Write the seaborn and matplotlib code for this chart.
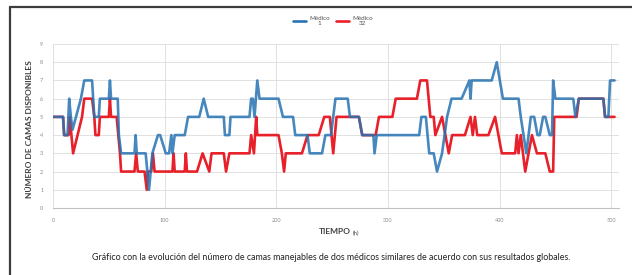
import matplotlib
matplotlib.use('Agg')
import matplotlib.pyplot as plt
import seaborn as sns
from matplotlib.lines import Line2D

# datos (vertices de cada serie)
tiempo_medico1 = [0, 9, 10, 13, 14.5, 16, 17.5, 25, 28, 35, 37, 41, 42, 50, 51, 52, 58, 59, 61, 73, 74, 75, 83,
                  86, 89, 94, 96, 101, 104, 106, 107, 109, 118, 121, 131, 135, 139, 153, 154, 158, 159, 176,
                  177.5, 179, 180.5, 183, 185, 202, 206, 215, 217, 228, 230, 241, 244, 249, 253, 264, 266, 274,
                  277, 287, 288, 290, 328, 330, 334, 337, 341, 344, 348.5, 353, 357, 366, 373, 374, 375, 393,
                  397.5, 403, 417, 419, 424, 428, 431, 434, 436, 439, 441, 445, 447, 448, 450, 466, 468, 471,
                  493, 494.5, 497.5, 499, 503]
camas_medico1 = [5, 5, 4, 4, 6, 5, 4.3, 6, 7, 7, 5, 5, 6, 6, 7, 6, 6, 4, 3, 3, 4, 3, 3,
                 1, 3, 4, 4, 3, 3, 4, 3, 4, 4, 5, 5, 6, 5, 5, 4, 4, 5, 5,
                 6, 6, 5, 7, 6, 6, 5, 5, 4, 4, 3, 3, 4, 4, 6, 6, 5, 5,
                 4, 4, 3, 4, 4, 5, 5, 3, 3, 2, 3, 5, 6, 6, 7, 6, 7, 7,
                 8, 6, 6, 5, 3, 5, 5, 4, 4, 5, 5, 4, 4, 7, 6, 6, 5, 6,
                 6, 5, 5, 7, 7]

tiempo_medico2 = [0, 9, 10, 14, 15, 18, 26, 28, 35, 37, 38, 41, 42, 50, 51, 52, 57, 60, 61, 73, 74.5, 76, 82,
                  84, 85, 88, 89.5, 91, 107, 108, 109, 118, 119, 120, 129, 134, 140, 142, 153, 155, 158, 176,
                  177.5, 180, 182, 183, 202, 205, 207, 208.5, 223, 228, 238, 243, 248, 251, 254, 274, 277, 289,
                  292, 304, 307, 326, 329, 335, 338, 341, 342.5, 348.5, 354.5, 357.5, 369, 374, 376, 378, 380,
                  390, 396, 402, 414, 415.5, 417, 419, 423, 429, 433.5, 441, 445, 448, 449, 469, 471, 493,
                  494.5, 503]
camas_medico2 = [5, 5, 4, 4, 5, 3, 5, 6, 6, 5, 4, 4, 5, 5, 6, 5, 5, 3, 2, 2, 3, 2, 2,
                 1, 2, 2, 3, 2, 2, 3, 2, 2, 3, 2, 2, 3, 2, 3, 3, 2, 3, 3,
                 4, 3, 5, 4, 4, 3, 2, 3, 3, 4, 4, 5, 5, 3, 5, 5, 4, 4,
                 5, 5, 6, 6, 7, 7, 5, 5, 4, 5, 3, 4, 4, 5, 4, 5, 4,
                 4, 5, 3, 3, 4, 3, 4, 2, 4, 3, 3, 2, 2, 5, 5, 6, 6,
                 5, 5]

etiquetas = ['Médico\n1', 'Médico\n32']
colores = ['#2673b3', '#e8202a']


def grafico_camas():
    fig = plt.figure(figsize=(6.32, 2.75), dpi=100)
    ax = fig.add_axes([53 / 632, 67 / 275, 566 / 632, 164 / 275])

    sns.lineplot(x=tiempo_medico2, y=camas_medico2, color=colores[1], lw=1.9,
                 estimator=None, sort=False, ax=ax, zorder=3)
    sns.lineplot(x=tiempo_medico1, y=camas_medico1, color=colores[0], lw=1.9, alpha=0.85,
                 estimator=None, sort=False, ax=ax, zorder=4)

    ax.set_xlim(0, 507)
    ax.set_ylim(0, 9)
    ax.set_xticks(range(0, 501, 100))
    ax.set_yticks(range(0, 10))
    ax.grid(True, color='#dcdcdc', lw=0.6)
    for s in ['top', 'right', 'left']:
        ax.spines[s].set_visible(False)
    ax.spines['bottom'].set_color('#c0c0c0')
    ax.spines['bottom'].set_linewidth(0.8)
    ax.tick_params(length=0, labelsize=4, labelcolor='#8a8a8a', pad=7)

    ax.set_xlabel('')
    ax.set_ylabel('')
    fig.text(351 / 632, 1 - 232 / 275, 'TIEMPO', fontsize=6, color='#404040',
             fontweight='bold', ha='right', va='center')
    fig.text(353 / 632, 1 - 233 / 275, '(h)', fontsize=4.2, color='#404040', ha='left', va='center')
    fig.text(30 / 632, 1 - 129 / 275, 'NÚMERO DE CAMAS DISPONIBLES', fontsize=6, color='#404040',
             fontweight='bold', rotation=90, ha='center', va='center')

    handles = [Line2D([], [], color=c, lw=1.9) for c in colores]
    leg = fig.legend(handles, etiquetas, loc='center', bbox_to_anchor=(333 / 632, 1 - 21 / 275), ncol=2,
                     frameon=False, fontsize=4.5, handlelength=2.0, columnspacing=1.0,
                     handletextpad=0.6, labelcolor='#505050')
    for t in leg.get_texts():
        t.set_multialignment('center')

    fig.text(331 / 632, 1 - 258 / 275,
             'Gráfico con la evolución del número de camas manejables de dos médicos similares '
             'de acuerdo con sus resultados globales.',
             fontsize=6.4, color='#222222', ha='center', va='center')

    # marco exterior
    fig.add_artist(Line2D([10 / 632, 10 / 632], [0, 1 - 7 / 275], transform=fig.transFigure,
                          color='#3c3c3c', lw=1.6))
    fig.add_artist(Line2D([10 / 632, 1], [1 - 7 / 275, 1 - 7 / 275], transform=fig.transFigure,
                          color='#3c3c3c', lw=1.6))
    fig.savefig('out.png', dpi=100)


sns.set_style('white')
plt.rcParams['font.family'] = ['Lato', 'DejaVu Sans']
grafico_camas()
